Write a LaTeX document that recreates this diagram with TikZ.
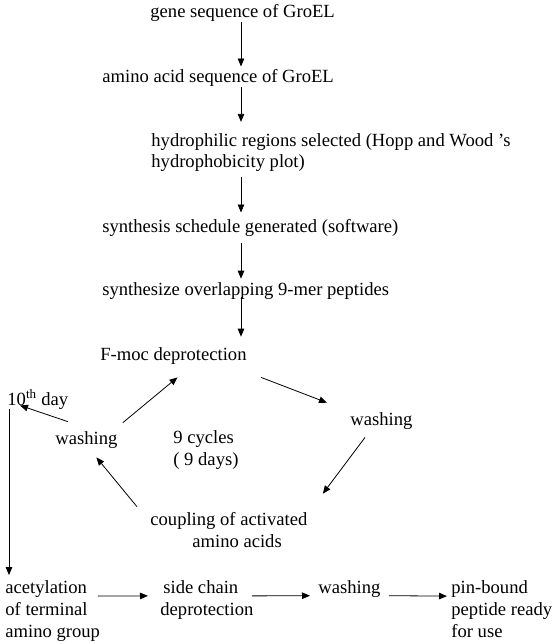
\documentclass[tikz,border=0pt]{standalone}
\usepackage{fontspec}
\setmainfont{Liberation Serif}
\usepackage{tikz}
\usetikzlibrary{arrows.meta}

\begin{document}
\begin{tikzpicture}[>={Triangle[width=6.5pt,length=8pt]}, line width=0.8pt, every node/.style={inner sep=0pt, anchor=base west, align=left, font=\fontsize{18.6}{21.8}\selectfont}]
\useasboundingbox (0pt, 0pt) rectangle (555pt, -644pt);
\coordinate (spine) at (241pt, 0pt);
% multi-line nodes sit on the baseline of their last line
\draw (150.0pt, -18.0pt)node(gene){gene sequence of GroEL};
\draw (102.0pt, -83.0pt)node(amino){amino acid sequence of GroEL};
\draw (151.0pt, -168.0pt)node(hydro){hydrophilic regions selected (Hopp and Wood ’s\\hydrophobicity plot)};
\draw (102.0pt, -232.0pt)node(sched){synthesis schedule generated (software)};
\draw (102.0pt, -295.0pt)node(synth){synthesize overlapping 9-mer peptides};
\draw (100.0pt, -360.0pt)node(fmoc){F-moc deprotection};
\draw (350.0pt, -425.0pt)node(washR){washing};
\draw (55.0pt, -444.0pt)node(washL){washing};
\draw (173.0pt, -465.0pt)node(cycles){9 cycles\\( 9 days)};
\draw (7.0pt, -405.0pt)node(day10){10\textsuperscript{th} day};
\draw (150.0pt, -547.0pt)node(coupling){coupling of activated\\\hspace*{42pt}amino acids};
\draw (5.0pt, -637.0pt)node(acetyl){acetylation\\of terminal\\amino group};
\draw (160.0pt, -615.0pt)node(sidechain){\hspace*{3pt}side chain\\deprotection};
\draw (318.0pt, -593.0pt)node(washB){washing};
\draw (451.0pt, -637.0pt)node(ready){pin-bound\\peptide ready\\for use};
% main line
\path[->] (gene.south -| spine) edge[shorten >=3pt] (amino.north -| spine);
\path[->] (amino.south -| spine) edge[shorten >=11pt] (hydro.north -| spine);
\path[->] (hydro.south -| spine) edge[shorten <=5pt, shorten >=6pt] (sched.north -| spine);
\path[->] (sched.south -| spine) edge[shorten <=7pt, shorten >=3pt] (synth.north -| spine);
\path[->] (synth.south -| spine) edge[shorten <=-2pt, shorten >=10pt] (fmoc.north -| spine);
% the cycle
\path[->] ([xshift=14pt,yshift=-13pt]fmoc.south east) edge ([xshift=-23pt,yshift=9pt]washR.north west);
\path[->] ([xshift=15pt,yshift=-8pt]washR.south west) edge ([xshift=15pt,yshift=18pt]coupling.north east);
\path[->] ([xshift=-13pt,yshift=5pt]coupling.north west) edge ([xshift=10pt,yshift=-9pt]washL.south);
\path[->] ([xshift=5pt,yshift=8pt]washL.north east) edge ([xshift=4pt,yshift=-13pt]fmoc.south);
\path[->] ([xshift=13pt,yshift=9pt]washL.north west) edge ([xshift=13pt,yshift=4pt]day10.south west);
\path[->] ([xshift=2pt]day10.south west) edge ([xshift=4pt,yshift=5pt]acetyl.north west);
% last steps
\path[->] ([xshift=-2.5pt,yshift=-16pt]acetyl.north east) edge ([xshift=-12pt,yshift=-16pt]sidechain.north west);
\path[->] ([xshift=-2pt,yshift=-16pt]sidechain.north east) edge ([xshift=-8pt,yshift=-16pt]washB.north west);
\path[->] ([xshift=8pt,yshift=-16pt]washB.north east) edge ([xshift=-4pt,yshift=-16pt]ready.north west);
\end{tikzpicture}
\end{document}
